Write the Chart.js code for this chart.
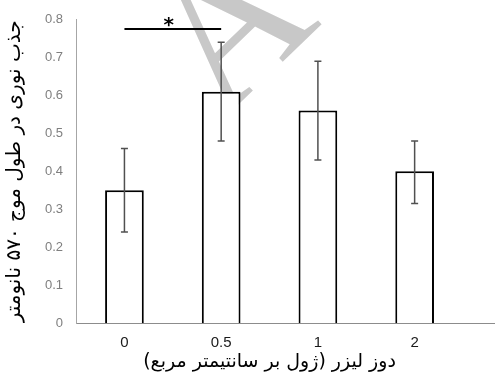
<!DOCTYPE html>
<html>
<head>
<meta charset="utf-8">
<script src="https://cdn.jsdelivr.net/npm/chart.js@4/dist/chart.umd.min.js"></script>
<style>
html,body{margin:0;padding:0;background:#fff;}
#wrap{width:495px;height:374px;position:relative;}
</style>
</head>
<body>
<div id="wrap"><canvas id="c" width="495" height="374"></canvas></div>
<script>
const categories = ['0', '0.5', '1', '2'];
const means = [0.35, 0.61, 0.56, 0.40];
const errLow = [0.24, 0.48, 0.43, 0.315];
const errHigh = [0.46, 0.74, 0.69, 0.48];
const sigPair = [0, 1];
const sigLevel = 0.775;
const sigLabel = '*';
const xTitle = 'دوز لیزر (ژول بر سانتیمتر مربع)\u200F';
const yTitle = 'جذب نوری در طول موج ۵۷۰ نانومتر';
const watermark = 'A';

const overlay = {
  id: 'overlay',
  beforeDatasetsDraw(chart) {
    const ctx = chart.ctx;
    ctx.save();
    ctx.translate(272, 72);
    ctx.rotate(-44 * Math.PI / 180);
    ctx.font = '195px "Liberation Serif"';
    ctx.fillStyle = '#c8c8c8';
    ctx.textAlign = 'center';
    ctx.textBaseline = 'alphabetic';
    ctx.fillText(watermark, 0, 0);
    ctx.restore();
  },
  afterDatasetsDraw(chart) {
    const ctx = chart.ctx;
    const x = chart.scales.x, y = chart.scales.y;
    const area = chart.chartArea;
    ctx.save();
    ctx.strokeStyle = '#8c8c8c';
    ctx.lineWidth = 1;
    const by = Math.round(y.getPixelForValue(0)) + 0.5;
    ctx.beginPath();
    ctx.moveTo(area.right, by);
    ctx.lineTo(chart.width, by);
    ctx.stroke();
    ctx.strokeStyle = '#505050';
    ctx.lineWidth = 1.5;
    categories.forEach((c, i) => {
      const px = x.getPixelForValue(i);
      const yl = y.getPixelForValue(errLow[i]);
      const yh = y.getPixelForValue(errHigh[i]);
      ctx.beginPath();
      ctx.moveTo(px, yl); ctx.lineTo(px, yh);
      ctx.moveTo(px - 3.5, yl); ctx.lineTo(px + 3.5, yl);
      ctx.moveTo(px - 3.5, yh); ctx.lineTo(px + 3.5, yh);
      ctx.stroke();
    });
    const x1 = x.getPixelForValue(sigPair[0]);
    const x2 = x.getPixelForValue(sigPair[1]);
    const sy = y.getPixelForValue(sigLevel);
    ctx.strokeStyle = '#000';
    ctx.lineWidth = 2;
    ctx.beginPath();
    ctx.moveTo(x1, sy); ctx.lineTo(x2, sy);
    ctx.stroke();
    ctx.fillStyle = '#000';
    ctx.font = 'bold 20px "DejaVu Sans"';
    ctx.textAlign = 'center';
    ctx.textBaseline = 'alphabetic';
    ctx.fillText(sigLabel, (x1 + x2) / 2 - 4, sy + 2);
    ctx.restore();
  }
};

new Chart(document.getElementById('c'), {
  type: 'bar',
  data: {
    labels: categories,
    datasets: [{
      data: means,
      backgroundColor: '#ffffff',
      borderColor: '#000000',
      borderWidth: 2,
      categoryPercentage: 0.8,
      barPercentage: 0.5
    }]
  },
  options: {
    responsive: false,
    animation: false,
    events: [],
    layout: { padding: { top: 3, right: 32, left: 3, bottom: 1 } },
    plugins: { legend: { display: false }, tooltip: { enabled: false } },
    scales: {
      x: {
        grid: { display: false, drawTicks: false },
        border: { color: '#8c8c8c', width: 1 },
        ticks: { color: '#1a1a1a', font: { family: '"Liberation Sans"', size: 15 }, padding: 11 },
        title: { display: true, text: xTitle, color: '#000', font: { family: '"DejaVu Sans"', size: 19 }, padding: { top: -13, bottom: 0 } }
      },
      y: {
        min: 0, max: 0.8,
        grid: { display: false, drawTicks: false },
        border: { color: '#a6a6a6', width: 1 },
        ticks: { stepSize: 0.1, color: '#7f7f7f', font: { family: '"Liberation Sans"', size: 13, lineHeight: 1 }, padding: 13 },
        title: { display: true, text: yTitle, color: '#000', font: { family: '"DejaVu Sans"', size: 20 }, padding: { top: 0, bottom: 5 } }
      }
    }
  },
  plugins: [overlay]
});
</script>
</body>
</html>
